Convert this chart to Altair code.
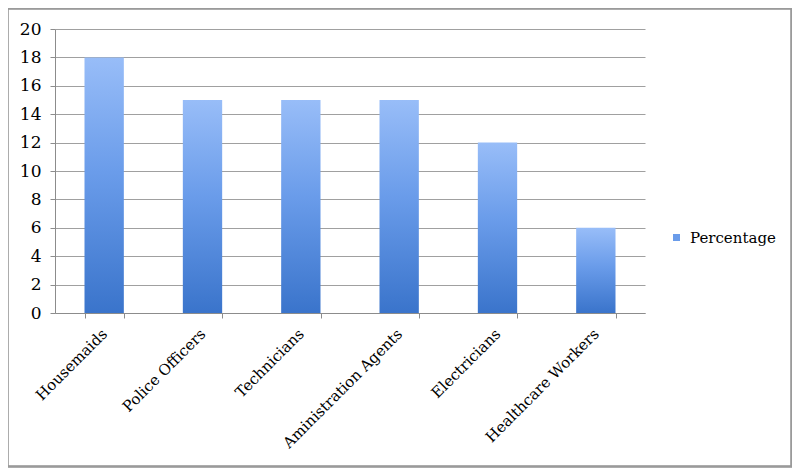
import altair as alt
import pandas as pd

categories = ["Housemaids", "Police Officers", "Technicians", "Aministration Agents", "Electricians", "Healthcare Workers"]
values = [18, 15, 15, 15, 12, 6]
series_name = "Percentage"
y_ticks = [0, 2, 4, 6, 8, 10, 12, 14, 16, 18, 20]

df = pd.DataFrame({"Category": categories, "Value": values, "Series": [series_name] * len(categories)})

FONT = "DejaVu Serif"
grad = alt.Gradient(
    gradient="linear", x1=0, y1=0, x2=0, y2=1,
    stops=[alt.GradientStop(color="#98bdf8", offset=0),
           alt.GradientStop(color="#6a9cea", offset=0.45),
           alt.GradientStop(color="#3a74cb", offset=1)],
)

bars = alt.Chart(df).mark_bar(fill=grad).encode(
    x=alt.X("Category:N", sort=categories, title=None,
            scale=alt.Scale(paddingInner=0.6, paddingOuter=0.3),
            axis=alt.Axis(labelAngle=-45, labelAlign="right", labelBaseline="middle",
                          labelFont=FONT, labelFontSize=15, labelColor="#000000",
                          labelPadding=13, tickBand="extent", tickSize=5,
                          tickColor="#8c8c8c", domainColor="#8c8c8c", grid=False)),
    y=alt.Y("Value:Q", title=None,
            scale=alt.Scale(domain=[0, 20], nice=False),
            axis=alt.Axis(values=y_ticks, labelFont=FONT, labelFontSize=17, labelColor="#000000",
                          labelPadding=9, tickSize=5, tickColor="#8c8c8c",
                          domainColor="#8c8c8c", gridColor="#a0a0a0", gridWidth=1)),
    color=alt.Color("Series:N", title=None,
                    scale=alt.Scale(range=["#6a9cea"]),
                    legend=alt.Legend(orient="none", legendX=614, legendY=201,
                                      symbolType="square", symbolSize=49,
                                      labelFont=FONT, labelFontSize=15, labelColor="#000000",
                                      labelOffset=6)),
)

frame = alt.Chart(df).mark_rect(fill=None, stroke="#9a9a9a", strokeWidth=1.5).encode(
    x=alt.value(-47.5), x2=alt.value(736.5), y=alt.value(-20.5), y2=alt.value(437.5)
)

chart = alt.layer(bars, frame).properties(
    width=590, height=284,
    autosize=alt.AutoSizeParams(type="none"),
    padding={"left": 47, "top": 21, "right": 147, "bottom": 155},
    background="white",
).configure_view(stroke=None).configure_axis(domainWidth=1, tickWidth=1)

chart.save("out.html", embed_options={"renderer": "svg", "actions": False})
